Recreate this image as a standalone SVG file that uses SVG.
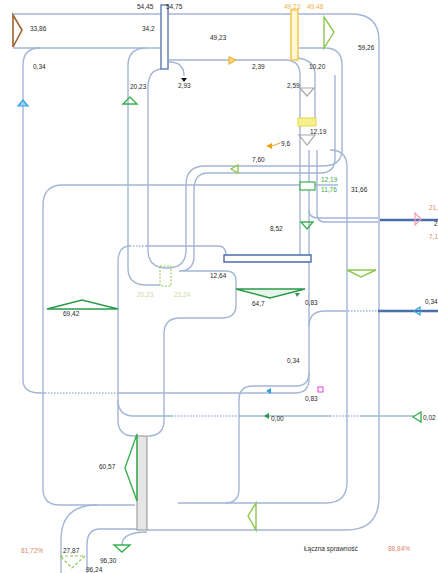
<svg xmlns="http://www.w3.org/2000/svg" width="438" height="573" viewBox="0 0 438 573">
<style>
.p{fill:none;stroke:#a3b6d6;stroke-width:1.4}
.d{fill:none;stroke:#a3b6d6;stroke-width:1.4;stroke-dasharray:1.5 1.5}
.dk{fill:none;stroke:#4a6eac;stroke-width:2.4}
.t{font-family:"Liberation Sans",Arial,sans-serif;font-size:6.5px;fill:#2a2a2a}
.o{fill:#f0b040}
.s{fill:#d9866a}
.lg{fill:#c6dd9c}
.g{fill:#36a852}
.gt{fill:none;stroke:#38b04e;stroke-width:1.4}
.lt{fill:none;stroke:#8cc850;stroke-width:1.4}
</style>
<rect width="438" height="573" fill="#fff"/>
<g id="connectors">
<path class="p" d="M13,14 H352 Q379,14 379,41 V497 Q379,530 346,530 H147"/>
<path class="p" d="M13,48 H161"/>
<path class="p" d="M169,60 H285 Q300,60 300,75 V118"/>
<path class="p" d="M299,48 H325 Q342,48 342,65 V150 Q342,166 322,166 H205 Q186,166 186,185 V250 Q186,268 167,268 Q148,268 148,250 V88 Q148,70 161,69"/>
<path class="p" d="M335,75 V158 Q335,173 320,173 H208 Q194,173 194,190 V256 Q194,271 179,271 H226 Q236,271 236,281 V305 Q236,318 222,318 H180 Q164,318 164,334 V420 Q164,436 148,436"/>
<path class="p" d="M40,48 Q23,48 23,65 V380 Q23,393 40,393 H45"/>
<path class="d" d="M45,393 H118"/>
<path class="p" d="M118,393 H295 Q309,393 309,379 V150"/>
<path class="p" d="M146,48 Q128,48 128,66 V268 Q128,285 146,285 H160"/>
<path class="p" d="M43,489 V205 Q43,185 63,185 H338"/>
<path class="p" d="M43,489 Q43,505 60,505 H135"/>
<path class="p" d="M330,150 Q347,150 347,167 V482 Q347,503 326,503 H178"/>
<path class="p" d="M118,262 Q118,246 130,246"/>
<path class="d" d="M130,246 H146"/>
<path class="p" d="M146,246 H218 Q226,246 226,255"/>
<path class="p" d="M118,262 V420 Q118,436 134,436 H137"/>
<path class="p" d="M118,400 Q118,416 134,416 H172"/>
<path class="d" d="M172,416 H238"/>
<path class="p" d="M238,416 H330"/>
<path class="d" d="M330,416 H360"/>
<path class="p" d="M360,416 H414"/>
<path class="p" d="M239,489 V400 Q239,386 253,386 H296 Q309,386 309,373"/>
<path class="p" d="M239,489 Q239,503 225,503"/>
<path class="p" d="M317,150 V214 Q317,222 325,222 H378"/>
<path class="p" d="M309,210 Q309,218 318,218 H378"/>
<path class="p" d="M300,126 V255"/>
<path class="dk" d="M380,220 H438"/>
<path class="p" d="M309,326 Q309,311 325,311 H345"/>
<path class="d" d="M345,311 H378"/>
<path class="dk" d="M378,311 H438"/>
<path class="p" d="M298,58 Q315,60 315,75 V118"/>
<path class="p" d="M169,62 Q184,62 184,76"/>
<path class="p" d="M97,505 Q61,505 61,540 V573"/>
<path class="p" d="M146,529 H100 Q87,529 87,545 V573"/>
<path class="p" d="M147,532 Q122,532 122,545"/>
<path fill="#fff" stroke="#4a6eac" stroke-width="1.4" d="M224,255 H311 V262 H224 Z"/>
</g>
<g id="meters">
<rect x="161" y="5" width="7" height="64" fill="#fff" stroke="#5a7ab0" stroke-width="1.4"/>
<rect x="291" y="10" width="7" height="50" fill="#fff8d6" stroke="#f2c240" stroke-width="1.4"/>
<rect x="298" y="118" width="18" height="8" fill="#f7f08a" stroke="#e4d850" stroke-width="1"/>
<rect x="300" y="182" width="15" height="8" fill="#fff" stroke="#38b04e" stroke-width="1.2"/>
<rect x="160" y="266" width="11" height="20" fill="none" stroke="#8cc850" stroke-width="1" stroke-dasharray="2 1.5"/>
<rect x="137" y="436" width="10" height="94" fill="#e6e6e6" stroke="#a0a0a0" stroke-width="1.2"/>
<rect x="318" y="387" width="5" height="5" fill="#fff" stroke="#e040e0" stroke-width="1"/>
</g>
<g id="markers">
<polygon points="13,15 13,47 22,30" fill="none" stroke="#a0622d" stroke-width="1.6"/>
<polygon points="324,17 324,48 334,32" class="lt"/>
<polygon points="18,106 28,106 23,100" fill="#9ad6f4" stroke="#2e9fe0" stroke-width="1.2"/>
<polygon points="123,104 137,104 130,97" class="gt"/>
<polygon points="181,78 187,78 184,82" fill="#111"/>
<polygon points="229,57 229,64 236,60" fill="#ffe070" stroke="#f0b040" stroke-width="1.2"/>
<polygon points="300,88 314,88 307,96" fill="none" stroke="#a8a8a8" stroke-width="1.2"/>
<polygon points="299,135 315,135 307,145" fill="none" stroke="#a8a8a8" stroke-width="1.2"/>
<polygon points="266,146 272,143 272,149" fill="#f0a020"/>
<path d="M272,146 L280,143" stroke="#f0a020" stroke-width="1"/>
<polygon points="238,165 238,173 231,169" class="lt"/>
<polygon points="301,222 313,222 307,229" class="gt"/>
<polygon points="415,213 415,225 421,219" fill="none" stroke="#f0a0b0" stroke-width="1.2"/>
<polygon points="347,270 376,270 361,277" class="lt"/>
<polygon points="236,289 305,289 270,298" fill="#e8f6ea" stroke="#2a9a4a" stroke-width="1.6"/>
<polygon points="47,309 118,309 82,300" fill="none" stroke="#2a9a4a" stroke-width="1.4"/>
<polygon points="295,293 300,293 297,297" fill="#2a9a4a"/>
<polygon points="266,391 271,388 271,394" fill="#2e9fe0"/>
<polygon points="264,416 269,413 269,419" fill="#2a9a4a"/>
<polygon points="413,417 421,412 421,422" class="gt"/>
<polygon points="414,311 420,307 420,315" fill="none" stroke="#2e9fe0" stroke-width="1.2"/>
<polygon points="137,434 137,501 125,468" class="gt"/>
<polygon points="256,503 256,530 248,516" class="lt"/>
<polygon points="114,545 130,545 122,552" class="gt"/>
<polygon points="60,556 85,556 72,568" fill="none" stroke="#8cc850" stroke-width="1.2" stroke-dasharray="3 2"/>
</g>
<g id="labels">
<text class="t" x="30" y="31">33,86</text>
<text class="t" x="137" y="9">54,45</text>
<text class="t" x="166" y="9">54,75</text>
<text class="t" x="142" y="31">34,2</text>
<text class="t" x="210" y="40">49,23</text>
<text class="t o" x="284" y="9">49,23</text>
<text class="t o" x="307" y="9">49,48</text>
<text class="t" x="358" y="50">59,26</text>
<text class="t" x="33" y="69">0,34</text>
<text class="t" x="130" y="89">20,23</text>
<text class="t" x="178" y="88">2,93</text>
<text class="t" x="252" y="69">2,39</text>
<text class="t" x="309" y="69">10,20</text>
<text class="t" x="287" y="88">2,59</text>
<text class="t" x="310" y="134">12,19</text>
<text class="t" x="281" y="146">9,6</text>
<text class="t" x="252" y="162">7,60</text>
<text class="t g" x="321" y="182">12,19</text>
<text class="t g" x="321" y="192">11,76</text>
<text class="t" x="351" y="192">31,66</text>
<text class="t s" x="429" y="210">21,</text>
<text class="t" x="434" y="226">2</text>
<text class="t s" x="429" y="239">7,1</text>
<text class="t" x="270" y="231">8,52</text>
<text class="t" x="210" y="278">12,64</text>
<text class="t lg" x="137" y="297">20,23</text>
<text class="t lg" x="174" y="297">23,24</text>
<text class="t" x="63" y="316">69,42</text>
<text class="t" x="252" y="306">64,7</text>
<text class="t" x="305" y="305">0,83</text>
<text class="t" x="425" y="304">0,34</text>
<text class="t" x="287" y="363">0,34</text>
<text class="t" x="305" y="401">0,83</text>
<text class="t" x="271" y="421">0,00</text>
<text class="t" x="423" y="420">0,02</text>
<text class="t" x="99" y="469">60,57</text>
<text class="t s" x="21" y="553">81,72%</text>
<text class="t" x="63" y="553">27,87</text>
<text class="t" x="100" y="563">96,30</text>
<text class="t" x="86" y="572">96,24</text>
<text class="t" x="304" y="551">Łączna sprawność</text>
<text class="t s" x="388" y="551">88,84%</text>
</g>
</svg>
